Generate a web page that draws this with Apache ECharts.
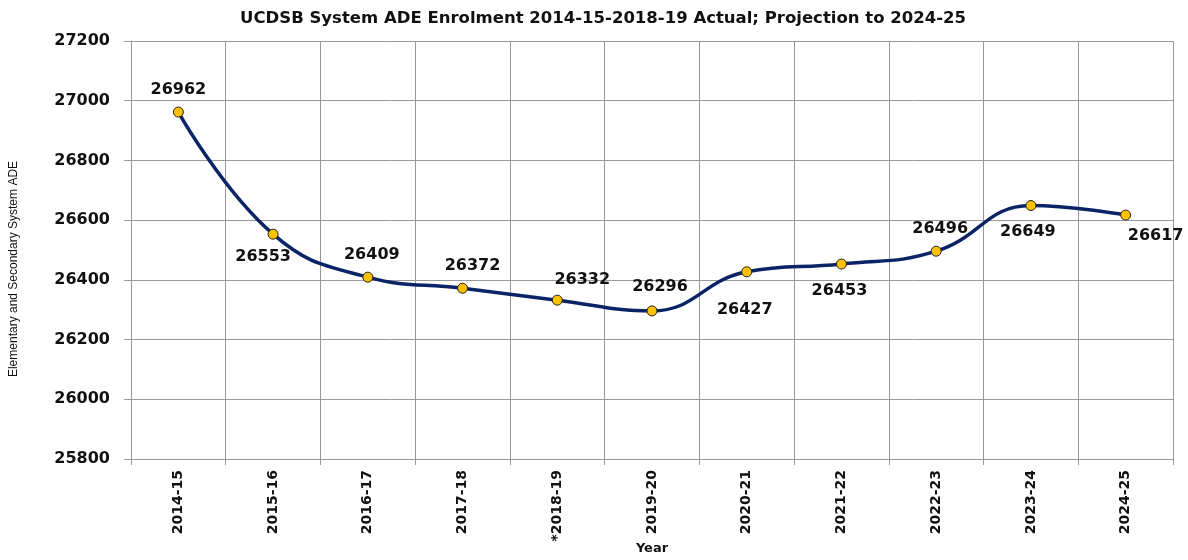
<!DOCTYPE html>
<html>
<head>
<meta charset="utf-8">
<script src="https://cdn.jsdelivr.net/npm/echarts@6/dist/echarts.min.js"></script>
<style>
  html, body { margin: 0; padding: 0; background: #fff; }
  #chart { width: 1188px; height: 560px; }
</style>
</head>
<body>
<div id="chart"></div>
<script>
const years = ['2014-15', '2015-16', '2016-17', '2017-18', '*2018-19', '2019-20',
  '2020-21', '2021-22', '2022-23', '2023-24', '2024-25']
const enrolment = [26962, 26553, 26409, 26372, 26332, 26296, 26427, 26453, 26496, 26649, 26617]
// where each value label sits relative to its point: [position, dx, dy]
const labelPlace = [
  ['top', 0, -4], ['bottom', -10, 4], ['top', 4, -4], ['top', 10, -4],
  ['top', 25, -2], ['top', 8, -6], ['bottom', -2, 20], ['bottom', -2, 8],
  ['top', 4, -4], ['bottom', -3, 8], ['bottom', 30, 2],
]

const chart = echarts.init(document.getElementById('chart'))
const textFont = 'DejaVu Sans'

chart.setOption({
  animation: false,
  backgroundColor: '#fff',
  title: {
    text: 'UCDSB System ADE Enrolment 2014-15-2018-19 Actual; Projection to 2024-25',
    left: 598,
    textAlign: 'center',
    top: 5,
    textStyle: { fontFamily: textFont, fontWeight: 'bold', fontSize: 16.5, color: '#111' },
  },
  grid: { left: 131, right: 15, top: 41, bottom: 101, outerBoundsMode: 'none' },
  xAxis: {
    type: 'category',
    data: years,
    name: 'Year',
    nameLocation: 'middle',
    nameGap: 83,
    nameMoveOverlap: false,
    nameTextStyle: { fontFamily: textFont, fontWeight: 'bold', fontSize: 13, color: '#111' },
    axisLine: { lineStyle: { color: '#999', width: 1 } },
    axisTick: { show: true, length: 6, interval: 0, lineStyle: { color: '#999' } },
    splitLine: { show: true, interval: 0, lineStyle: { color: '#999', width: 1 } },
    axisLabel: {
      rotate: 90,
      interval: 0,
      margin: 11,
      fontFamily: textFont,
      fontWeight: 'bold',
      fontSize: 14,
      color: '#111',
    },
  },
  yAxis: {
    type: 'value',
    min: 25800,
    max: 27200,
    interval: 200,
    name: 'Elementary and Secondary System ADE',
    nameLocation: 'middle',
    nameGap: 111,
    nameMoveOverlap: false,
    nameTextStyle: {
      fontFamily: 'Liberation Sans Narrow, Liberation Sans',
      fontSize: 12,
      color: '#111',
      padding: [0, 38, 0, 0],
    },
    axisLine: { show: true, lineStyle: { color: '#999', width: 1 } },
    axisTick: { show: true, length: 7, lineStyle: { color: '#999' } },
    splitLine: { show: true, lineStyle: { color: '#999', width: 1 } },
    axisLabel: {
      margin: 21,
      formatter: v => String(v),
      fontFamily: textFont,
      fontWeight: 'bold',
      fontSize: 16,
      color: '#111',
    },
  },
  series: [{
    type: 'line',
    smooth: 0.45,
    data: enrolment.map((v, i) => ({
      value: v,
      label: {
        position: labelPlace[i][0],
        offset: [labelPlace[i][1], labelPlace[i][2]],
      },
    })),
    symbol: 'circle',
    symbolSize: 10,
    lineStyle: { color: '#0b2466', width: 3.5 },
    itemStyle: { color: '#ffc000', borderColor: '#222', borderWidth: 1 },
    label: {
      show: true,
      fontFamily: textFont,
      fontWeight: 'bold',
      fontSize: 16,
      color: '#111',
    },
  }],
})
</script>
</body>
</html>
